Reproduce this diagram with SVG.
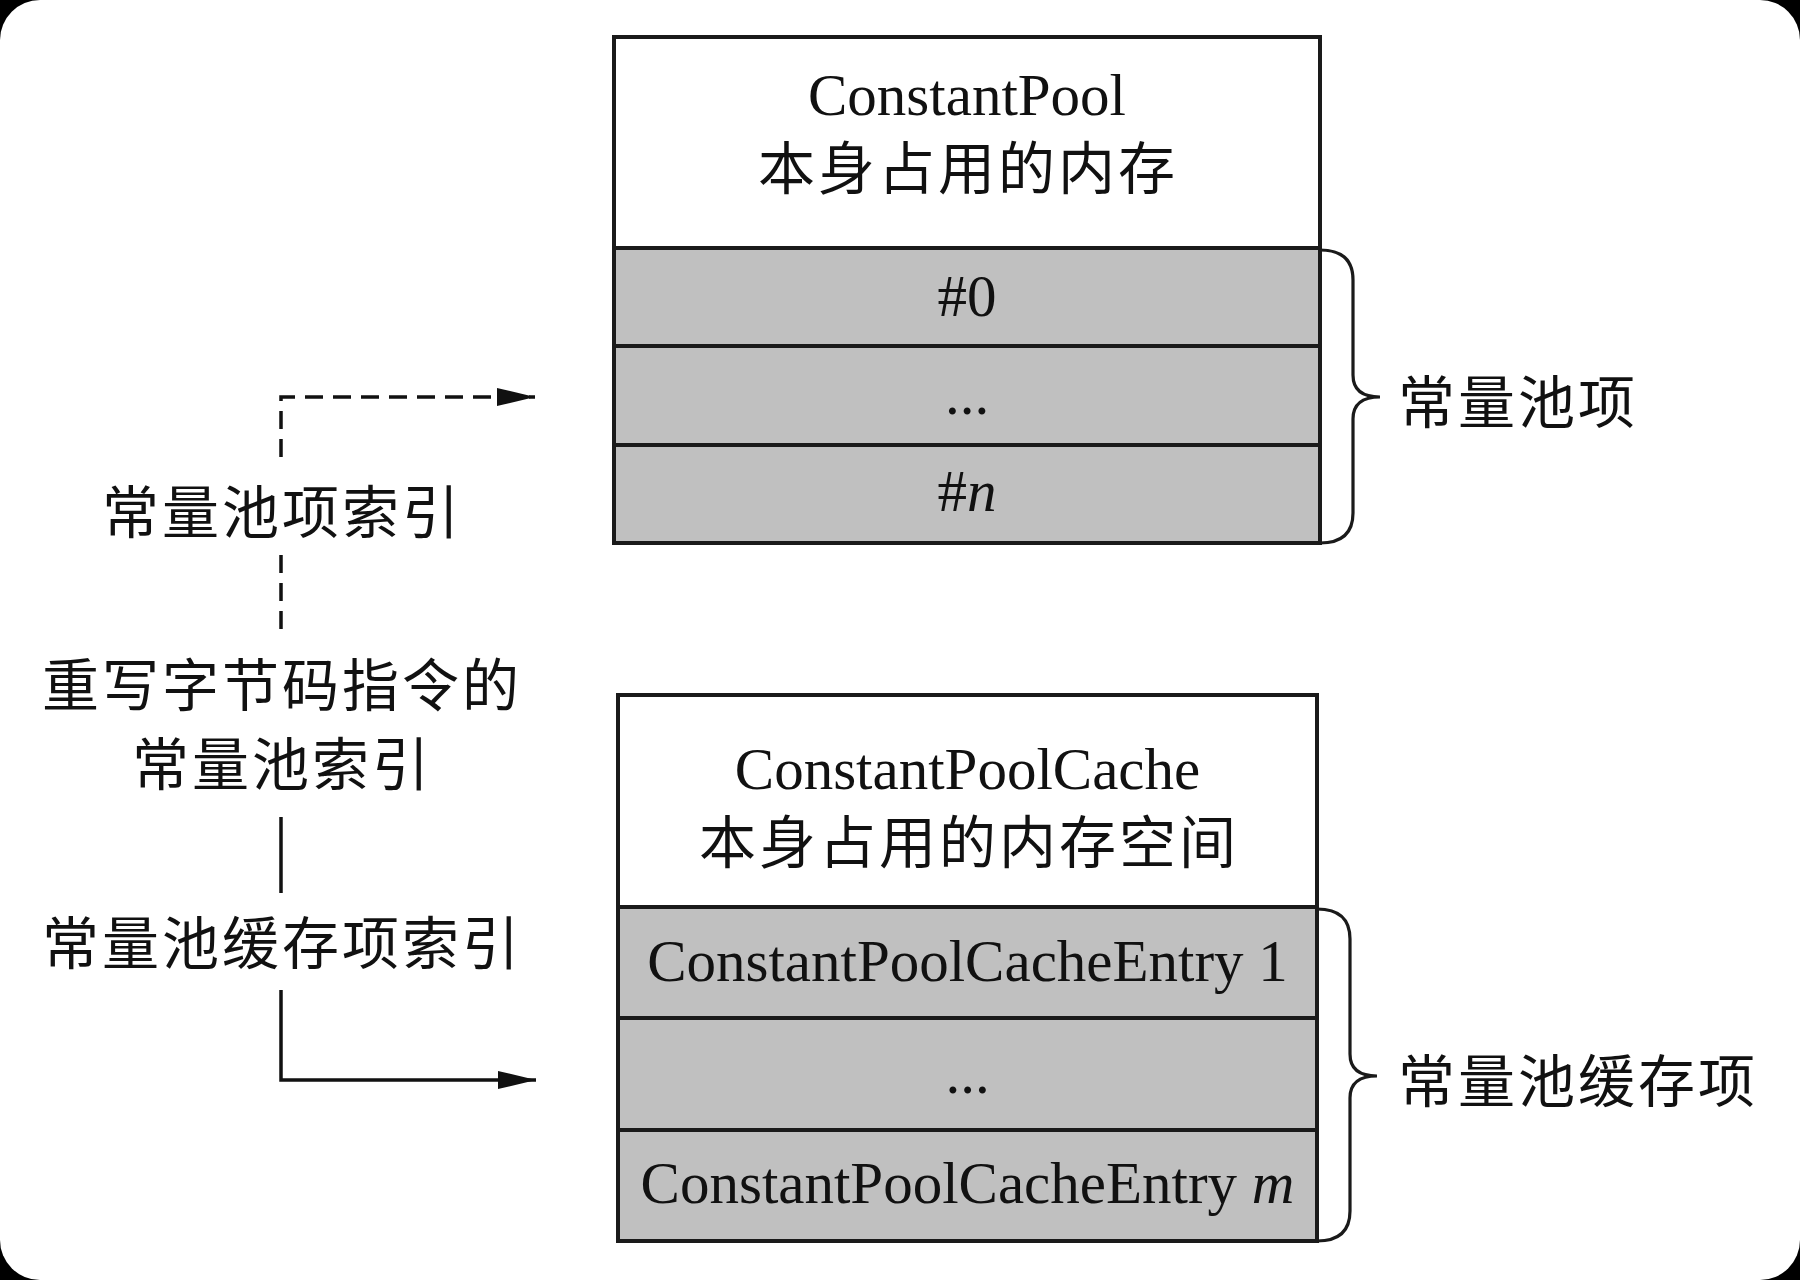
<svg xmlns="http://www.w3.org/2000/svg" width="1800" height="1280" viewBox="0 0 1800 1280">
  <style>
    .hdr { fill: #ffffff; stroke: #1a1a1a; stroke-width: 4; }
    .row { fill: #c0c0c0; stroke: #1a1a1a; stroke-width: 4; }
    .lat { font-family: "Liberation Serif", "Noto Sans CJK SC", serif; font-size: 59px; fill: #111; text-anchor: middle; }
    .cjk { font-family: "Noto Sans CJK SC", "Liberation Sans", sans-serif; font-size: 57px; letter-spacing: 3px; fill: #111; }
    .mid { text-anchor: middle; }
    .brace { fill: none; stroke: #1a1a1a; stroke-width: 3.2; }
    .conn { fill: none; stroke: #111; stroke-width: 3.5; }
    .dash { stroke-dasharray: 18 10; }
  </style>
  <defs>
    <marker id="arrow" markerUnits="userSpaceOnUse" markerWidth="38" markerHeight="18" refX="38" refY="9" orient="auto">
      <path d="M0,0 L38,9 L0,18 z" fill="#111"/>
    </marker>
  </defs>

  <rect x="0" y="0" width="1800" height="1280" fill="#000"/>
  <rect x="0" y="0" width="1800" height="1280" rx="40" ry="40" fill="#fff"/>

  <g id="constant-pool">
    <rect class="hdr" x="614" y="37" width="706" height="211"/>
    <text class="lat" x="967" y="115">ConstantPool</text>
    <text class="cjk mid" x="968" y="189">本身占用的内存</text>
  </g>
  <g id="cp-entry-0">
    <rect class="row" x="614" y="248" width="706" height="98"/>
    <text class="lat" x="967" y="316">#0</text>
  </g>
  <g id="cp-entry-dots">
    <rect class="row" x="614" y="346" width="706" height="99"/>
    <text class="lat" x="967" y="414">...</text>
  </g>
  <g id="cp-entry-n">
    <rect class="row" x="614" y="445" width="706" height="98"/>
    <text class="lat" x="967" y="511">#<tspan font-style="italic">n</tspan></text>
  </g>
  <g id="cp-items-label">
    <path class="brace" d="M1320,250 Q1353,250 1353,280 L1353,375 Q1353,397 1380,397 Q1353,397 1353,419 L1353,513 Q1353,543 1320,543"/>
    <text class="cjk" x="1398" y="423">常量池项</text>
  </g>

  <g id="constant-pool-cache">
    <rect class="hdr" x="618" y="695" width="699" height="212"/>
    <text class="lat" x="967.5" y="789">ConstantPoolCache</text>
    <text class="cjk mid" x="969" y="863">本身占用的内存空间</text>
  </g>
  <g id="cpc-entry-1">
    <rect class="row" x="618" y="907" width="699" height="111"/>
    <text class="lat" x="967.5" y="981">ConstantPoolCacheEntry 1</text>
  </g>
  <g id="cpc-entry-dots">
    <rect class="row" x="618" y="1018" width="699" height="112"/>
    <text class="lat" x="967.5" y="1093">...</text>
  </g>
  <g id="cpc-entry-m">
    <rect class="row" x="618" y="1130" width="699" height="111"/>
    <text class="lat" x="967.5" y="1203">ConstantPoolCacheEntry <tspan font-style="italic">m</tspan></text>
  </g>
  <g id="cpc-items-label">
    <path class="brace" d="M1317,909 Q1350,909 1350,939 L1350,1054 Q1350,1076 1377,1076 Q1350,1076 1350,1098 L1350,1211 Q1350,1241 1317,1241"/>
    <text class="cjk" x="1398" y="1102">常量池缓存项</text>
  </g>

  <g id="index-labels">
    <text class="cjk mid" x="282" y="533">常量池项索引</text>
    <text class="cjk mid" x="282" y="706">重写字节码指令的</text>
    <text class="cjk mid" x="282" y="785">常量池索引</text>
    <text class="cjk mid" x="282" y="964">常量池缓存项索引</text>
  </g>

  <g id="connectors">
    <path class="conn dash" d="M281,457 L281,397 L535,397" marker-end="url(#arrow)"/>
    <path class="conn dash" d="M281,555 L281,634"/>
    <path class="conn" d="M281,817 L281,893"/>
    <path class="conn" d="M281,990 L281,1080 L536,1080" marker-end="url(#arrow)"/>
  </g>
</svg>
